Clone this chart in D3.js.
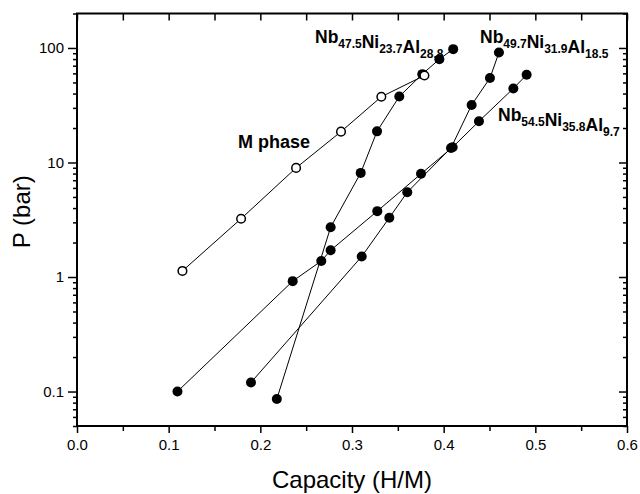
<!DOCTYPE html>
<html>
<head>
<meta charset="utf-8">
<script src="https://cdn.jsdelivr.net/npm/d3@7"></script>
<style>
  body { margin: 0; background: #fff; }
  text { font-family: "Liberation Sans", Arial, sans-serif; }
</style>
</head>
<body>
<div id="chart"></div>
<script>
// data
const mPhaseCap = [0.115, 0.179, 0.239, 0.288, 0.332, 0.379];
const mPhaseP   = [1.13, 3.23, 8.97, 18.6, 37.5, 57.5];

const nb475Cap = [0.218, 0.2767, 0.3095, 0.3273, 0.3516, 0.3767, 0.3953, 0.4104];
const nb475P   = [0.086, 2.72, 8.11, 18.7, 37.7, 59.1, 79.8, 97.7];

const nb545Cap = [0.1096, 0.2353, 0.2665, 0.2767, 0.3276, 0.3753, 0.4098, 0.4385, 0.476, 0.4905];
const nb545P   = [0.1, 0.92, 1.38, 1.71, 3.76, 7.96, 13.6, 22.9, 44.3, 58.3];

const nb497Cap = [0.1898, 0.3106, 0.3407, 0.3603, 0.408, 0.4305, 0.4505, 0.4603];
const nb497P   = [0.12, 1.51, 3.29, 5.5, 13.4, 31.8, 54.6, 91.2];

const xTicks = [0, 0.1, 0.2, 0.3, 0.4, 0.5, 0.6];
const xMinor = [0.05, 0.15, 0.25, 0.35, 0.45, 0.55];
const yTicks = [0.1, 1, 10, 100];
const yLabels = ["0.1", "1", "10", "100"];

const width = 640, height = 494;
const margin = { top: 13.5, right: 13, bottom: 68, left: 77 };

const svg = d3.select("#chart").append("svg")
    .attr("width", width)
    .attr("height", height);

const x = d3.scaleLinear().domain([0, 0.6]).range([margin.left, width - margin.right]);
const y = d3.scaleLog().domain([0.05, 200]).range([height - margin.bottom, margin.top]);

// minor ticks on the log axis
const yMinor = [];
[0.01, 0.1, 1, 10, 100].forEach(dec => {
    for (let k = 2; k <= 9; k++) {
        const v = dec * k;
        if (v >= 0.05 && v <= 200) yMinor.push(v);
    }
});

function styleAxis(g) {
    g.select(".domain").remove();
    g.selectAll("line").attr("stroke", "#000").attr("stroke-width", 1.5);
    g.selectAll("text").attr("fill", "#000").style("font-size", "15px");
}

const x0 = margin.left, x1 = width - margin.right;
const y0 = height - margin.bottom, y1 = margin.top;

// bottom axis
svg.append("g")
   .attr("transform", `translate(0,${y0})`)
   .call(d3.axisBottom(x).tickValues(xTicks).tickSize(7).tickSizeOuter(0).tickPadding(6).tickFormat(d3.format(".1f")))
   .call(styleAxis);
svg.append("g")
   .attr("transform", `translate(0,${y0})`)
   .call(d3.axisBottom(x).tickValues(xMinor).tickSize(5).tickSizeOuter(0).tickFormat(""))
   .call(styleAxis);

// top axis (ticks inward)
svg.append("g")
   .attr("transform", `translate(0,${y1})`)
   .call(d3.axisBottom(x).tickValues(xTicks.concat(xMinor)).tickSize(7).tickSizeOuter(0).tickFormat(""))
   .call(styleAxis);

// left axis
svg.append("g")
   .attr("transform", `translate(${x0},0)`)
   .call(d3.axisLeft(y).tickValues(yTicks).tickSize(9).tickSizeOuter(0).tickPadding(4)
          .tickFormat((d, i) => yLabels[i]))
   .call(styleAxis);
svg.append("g")
   .attr("transform", `translate(${x0},0)`)
   .call(d3.axisLeft(y).tickValues(yMinor).tickSize(4).tickSizeOuter(0).tickFormat(""))
   .call(styleAxis);

// right axis (ticks inward)
svg.append("g")
   .attr("transform", `translate(${x1},0)`)
   .call(d3.axisLeft(y).tickValues(yTicks).tickSize(8).tickSizeOuter(0).tickFormat(""))
   .call(styleAxis);
svg.append("g")
   .attr("transform", `translate(${x1},0)`)
   .call(d3.axisLeft(y).tickValues(yMinor).tickSize(4).tickSizeOuter(0).tickFormat(""))
   .call(styleAxis);

// frame
svg.append("rect")
   .attr("x", x0).attr("y", y1)
   .attr("width", x1 - x0).attr("height", y0 - y1)
   .attr("fill", "none")
   .attr("stroke", "#000")
   .attr("stroke-width", 2);

// series
const series = [
    { cap: nb475Cap, p: nb475P, open: false },
    { cap: nb545Cap, p: nb545P, open: false },
    { cap: nb497Cap, p: nb497P, open: false },
    { cap: mPhaseCap, p: mPhaseP, open: true }
];

const line = d3.line()
    .x(d => x(d[0]))
    .y(d => y(d[1]));

series.forEach(s => {
    const pts = s.cap.map((c, i) => [c, s.p[i]]);
    svg.append("path")
       .datum(pts)
       .attr("fill", "none")
       .attr("stroke", "#000")
       .attr("stroke-width", 1)
       .attr("d", line);
});

series.forEach(s => {
    const pts = s.cap.map((c, i) => [c, s.p[i]]);
    svg.selectAll(null)
       .data(pts)
       .enter()
       .append("circle")
       .attr("cx", d => x(d[0]))
       .attr("cy", d => y(d[1]))
       .attr("r", s.open ? 4.3 : 5)
       .attr("fill", s.open ? "#fff" : "#000")
       .attr("stroke", "#000")
       .attr("stroke-width", s.open ? 1.5 : 0);
});

// labels with subscripts
function formula(px, py, parts) {
    const t = svg.append("text")
        .attr("x", px).attr("y", py)
        .attr("font-weight", "bold")
        .attr("fill", "#000");
    parts.forEach(([el, sub]) => {
        t.append("tspan").style("font-size", "17.5px").attr("dy", 0).text(el);
        t.append("tspan").style("font-size", "12px").attr("dy", 5).text(sub);
        t.append("tspan").style("font-size", "17.5px").attr("dy", -5).text("");
    });
}

formula(315, 43, [["Nb", "47.5"], ["Ni", "23.7"], ["Al", "28.8"]]);
formula(480, 43, [["Nb", "49.7"], ["Ni", "31.9"], ["Al", "18.5"]]);
formula(498, 121, [["Nb", "54.5"], ["Ni", "35.8"], ["Al", "9.7"]]);

svg.append("text")
   .attr("x", 238).attr("y", 148)
   .attr("font-weight", "bold")
   .style("font-size", "18px")
   .text("M phase");

// axis titles
svg.append("text")
   .attr("x", (x0 + x1) / 2).attr("y", 488)
   .attr("text-anchor", "middle")
   .style("font-size", "24px")
   .text("Capacity (H/M)");

svg.append("text")
   .attr("transform", `translate(30,${(y0 + y1) / 2 - 8}) rotate(-90)`)
   .attr("text-anchor", "middle")
   .style("font-size", "24px")
   .text("P (bar)");
</script>
</body>
</html>
